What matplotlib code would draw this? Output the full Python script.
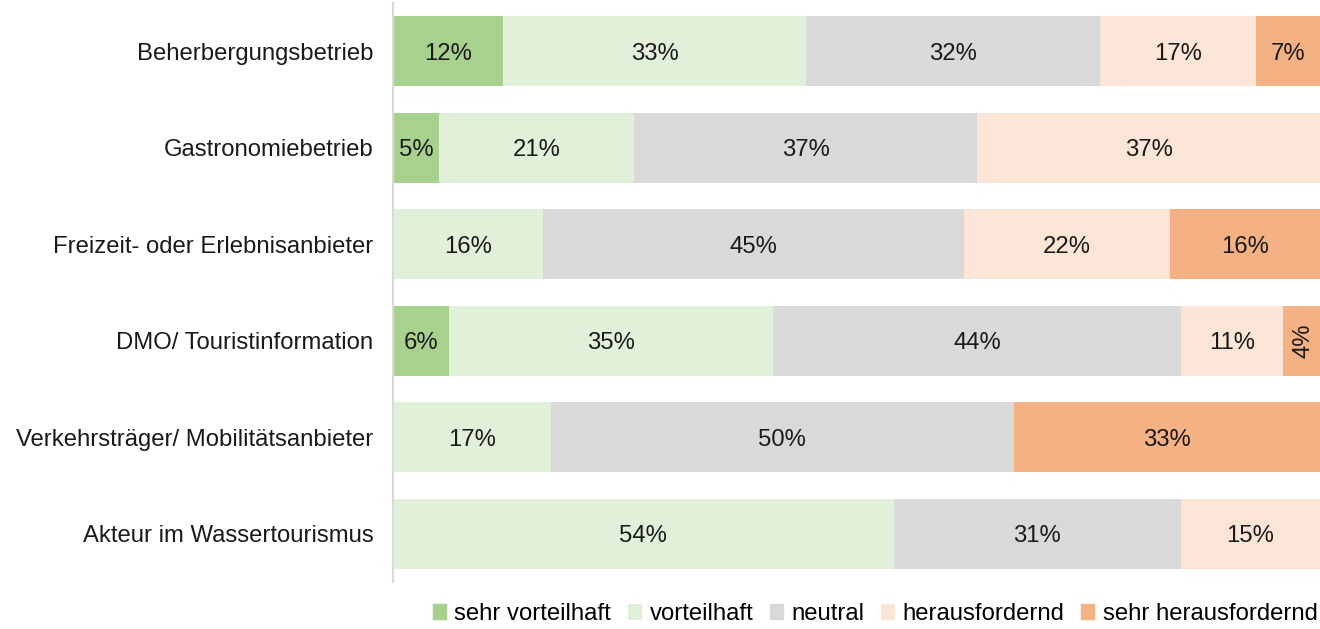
import numpy as np
import matplotlib.pyplot as plt
from matplotlib.patches import Patch

plt.rcParams['font.family'] = ['Liberation Sans', 'DejaVu Sans']

categories = ['Beherbergungsbetrieb', 'Gastronomiebetrieb', 'Freizeit- oder Erlebnisanbieter',
              'DMO/ Touristinformation', 'Verkehrsträger/ Mobilitätsanbieter', 'Akteur im Wassertourismus']
series = ['sehr vorteilhaft', 'vorteilhaft', 'neutral', 'herausfordernd', 'sehr herausfordernd']
colors = ['#A9D18E', '#E2F0D9', '#D9D9D9', '#FBE5D6', '#F4B183']

sehr_vorteilhaft = [12, 5, 0, 6, 0, 0]
vorteilhaft = [33, 21, 16, 35, 17, 54]
neutral = [32, 37, 45, 44, 50, 31]
herausfordernd = [17, 37, 22, 11, 0, 15]
sehr_herausfordernd = [7, 0, 16, 4, 33, 0]

data = np.array([sehr_vorteilhaft, vorteilhaft, neutral, herausfordernd, sehr_herausfordernd], dtype=float)
# 100% stacked: normalise each row
shares = data / data.sum(axis=0) * 100

W, H = 1320, 629
fs = 17.2
fig = plt.figure(figsize=(W / 100, H / 100), dpi=100)
ax = fig.add_axes([393 / W, 1 - 582 / H, (W - 393) / W, 579 / H])

y = np.arange(len(categories))
left = np.zeros(len(categories))
for i, name in enumerate(series):
    ax.barh(y, shares[i], left=left, height=0.73, color=colors[i], label=name)
    for j in range(len(categories)):
        if data[i, j] > 0:
            cx = left[j] + shares[i, j] / 2
            rot = 90 if data[i, j] < 5 else 0
            ax.text(cx, y[j], f'{int(data[i, j])}%', ha='center', va='center_baseline',
                    fontsize=fs, color='#1a1a1a', rotation=rot, rotation_mode='anchor')
    left += shares[i]

ax.set_xlim(0, 100)
ax.set_ylim(len(categories) - 0.5, -0.5)
ax.set_yticks(y)
ax.set_yticklabels(categories, fontsize=fs, color='#1a1a1a')
ax.set_xticks([])
ax.tick_params(axis='y', length=0, pad=14)
for s in ['top', 'right', 'bottom']:
    ax.spines[s].set_visible(False)
ax.spines['left'].set_color('#D9D9D9')
ax.spines['left'].set_linewidth(1.5)

handles = [Patch(color=c, label=s) for c, s in zip(colors, series)]
fig.legend(handles=handles, ncol=5, loc='center right', bbox_to_anchor=(1.0, 1 - 614 / H),
           frameon=False, fontsize=fs, handlelength=0.55, handleheight=0.55,
           handletextpad=0.35, columnspacing=0.7, borderaxespad=0.0, borderpad=0.1)

fig.savefig('out.png', dpi=100)
